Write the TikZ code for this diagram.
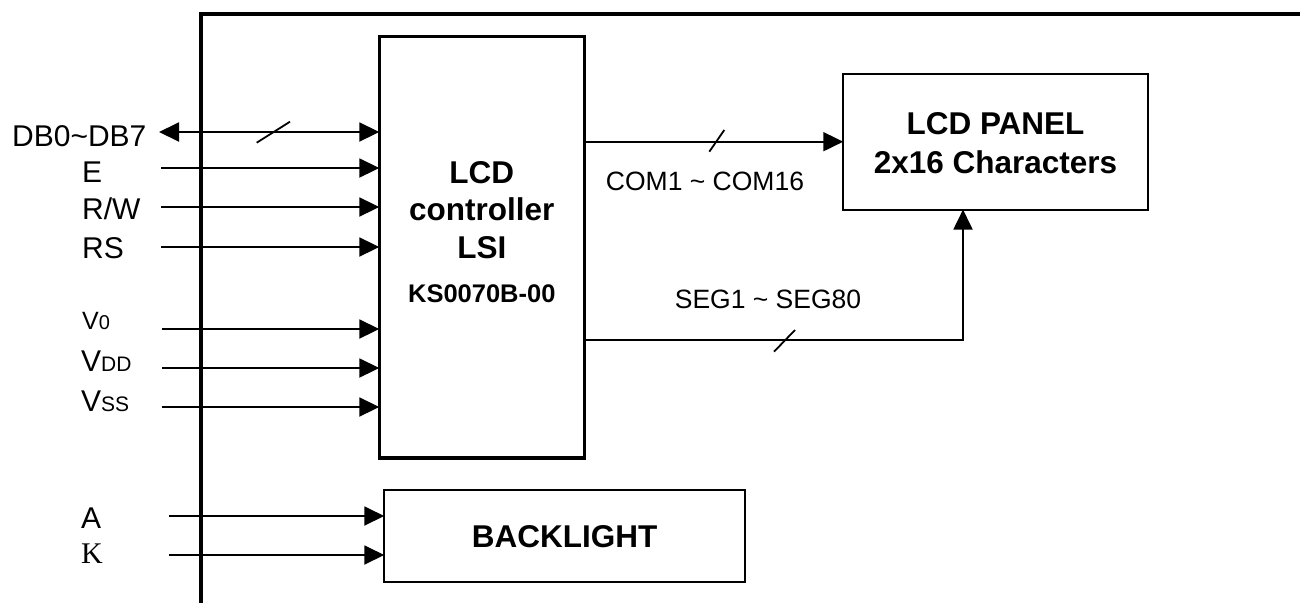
\documentclass[tikz,border=0pt]{standalone}
\usepackage{fontspec}
\setmainfont{Liberation Sans}
\newfontfamily\timesf{Liberation Serif}
\usetikzlibrary{arrows.meta}
\begin{document}
\begin{tikzpicture}[x=1pt,y=-1pt,
  conn/.style={line width=1.9pt, -{Triangle[length=20pt,width=19pt]}},
  dconn/.style={line width=1.9pt, {Triangle[length=20pt,width=19pt]}-{Triangle[length=20pt,width=19pt]}},
  bus/.style={line width=1.8pt},
  heavybox/.style={draw, line width=3.3pt, inner sep=0pt, outer sep=0pt},
  lightbox/.style={draw, line width=2pt, inner sep=0pt, outer sep=0pt},
  lbl/.style={anchor=base west, inner sep=0pt, font=\fontsize{30}{36}\selectfont},
  blbl/.style={anchor=base, inner sep=0pt, font=\bfseries\fontsize{31.5}{38}\selectfont},
  slbl/.style={anchor=base, inner sep=0pt, font=\fontsize{26.5}{32}\selectfont},
]
\useasboundingbox (0,0) rectangle (1300,603);
% outer frame
\draw[line width=3.3pt] (1300,14) -- (201,14) -- (201,603);

% blocks
\node[heavybox, minimum width=205pt, minimum height=421.3pt] (ctrl) at (481.8,247.3) {};
\node[lightbox, minimum width=304.5pt, minimum height=135.7pt] (panel) at (995.5,141.7) {};
\node[lightbox, minimum width=360.7pt, minimum height=91.7pt] (bl) at (564.6,535.8) {};

% block texts
\node[blbl] (t1) at (481.8,183) {LCD};
\node[blbl] (t2) at (481.8,220) {controller};
\node[blbl] (t3) at (481.8,258) {LSI};
\node[anchor=base, inner sep=0pt, font=\bfseries\fontsize{25.5}{30}\selectfont] (t4) at (481.8,302) {KS0070B-00};
\node[blbl] (p1) at (995.5,134) {LCD PANEL};
\node[blbl] (p2) at (995.5,173) {2x16 Characters};
\node[blbl] (b1) at (564.6,547) {BACKLIGHT};

% left labels
\node[lbl] (lDB) at (12,146) {DB0\char`\~DB7};
\node[lbl] (lE) at (82,182) {E};
\node[lbl] (lRW) at (82,219) {R/W};
\node[lbl] (lRS) at (82,258) {RS};
\node[lbl] (lV0) at (82,329) {{\fontsize{25}{30}\selectfont V}{\fontsize{20}{24}\selectfont 0}};
\node[lbl] (lVDD) at (81,371) {V{\fontsize{21}{25}\selectfont DD}};
\node[lbl] (lVSS) at (81,411) {V{\fontsize{21}{25}\selectfont SS}};
\node[lbl] (lA) at (81,528) {A};
\node[lbl] (lK) at (81,563) {\timesf K};

% start points of inputs
\coordinate (sDB) at (159,132);
\coordinate (sE) at (161,168);
\coordinate (sRW) at (161,207);
\coordinate (sRS) at (161,247);
\coordinate (sV0) at (162,329);
\coordinate (sVDD) at (162,368);
\coordinate (sVSS) at (162,407);
\coordinate (sA) at (169,516);
\coordinate (sK) at (169,555);

\draw[dconn] (sDB) -- (sDB -| ctrl.west);
\draw[bus] (256.7,142.7) -- (290,121.7);
\foreach \s in {sE,sRW,sRS,sV0,sVDD,sVSS}
  \draw[conn] (\s) -- (\s -| ctrl.west);
\draw[conn] (sA) -- (sA -| bl.west);
\draw[conn] (sK) -- (sK -| bl.west);

% COM bus
\draw[conn] (ctrl.east |- panel.west) -- (panel.west);
\draw[bus] (709.3,151.7) -- (724.3,130);
\node[slbl] (lCOM) at (705,190) {COM1 \char`\~{} COM16};

% SEG bus
\coordinate (segturn) at (963,340);
\draw[conn] (ctrl.east |- segturn) -- (segturn) -- (segturn |- panel.south);
\draw[bus] (774,351.7) -- (795,330);
\node[slbl] (lSEG) at (768,308) {SEG1 \char`\~{} SEG80};
\end{tikzpicture}
\end{document}
